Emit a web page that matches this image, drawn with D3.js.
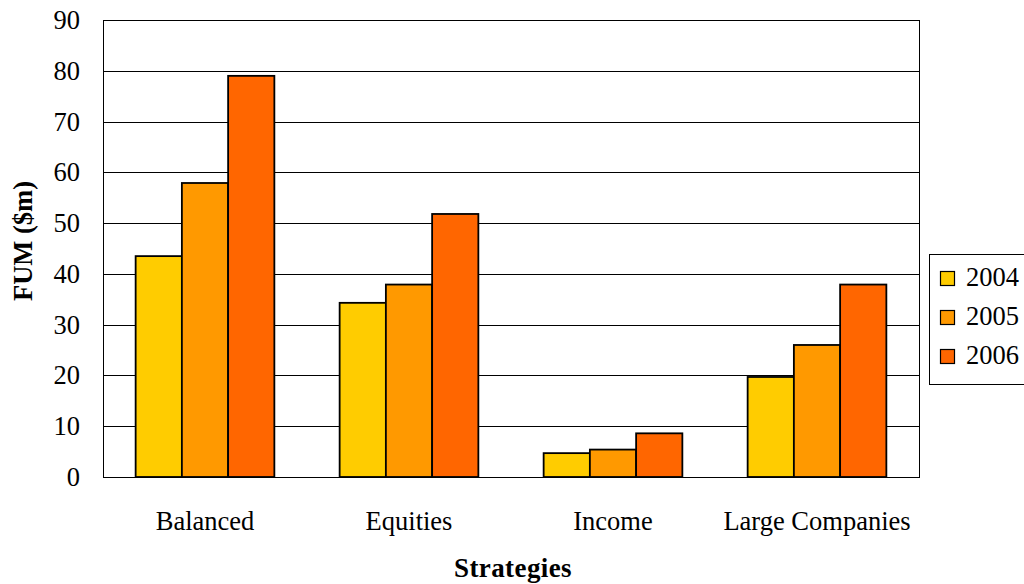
<!DOCTYPE html>
<html>
<head>
<meta charset="utf-8">
<script src="https://cdn.jsdelivr.net/npm/d3@7"></script>
<style>
  body { margin: 0; background: #fff; }
  text { font-family: "Liberation Serif", "Times New Roman", serif; }
</style>
</head>
<body>
<div id="chart"></div>
<script>
// Datos
var categories = ["Balanced", "Equities", "Income", "Large Companies"];
var years = ["2004", "2005", "2006"];
var values2004 = [43.5, 34.3, 4.7, 19.7];
var values2005 = [57.9, 37.9, 5.4, 26.0];
var values2006 = [79.0, 51.8, 8.6, 37.9];
var yTicks = [0, 10, 20, 30, 40, 50, 60, 70, 80, 90];
var colors = ["#FFCC00", "#FF9900", "#FF6600"];

var seriesValues = [values2004, values2005, values2006];

var width = 1024;
var height = 584;
var plot = { left: 103, top: 20, right: 919, bottom: 477 };
var fontSize = "26.5px";

var svg = d3.select("#chart")
    .append("svg")
    .attr("width", width)
    .attr("height", height);

// Escalas
var x0 = d3.scaleBand()
    .domain(categories)
    .range([plot.left, plot.right])
    .paddingInner(0.32)
    .paddingOuter(0.16);

var x1 = d3.scaleBand()
    .domain(years)
    .range([0, x0.bandwidth()]);

var y = d3.scaleLinear()
    .domain([0, 90])
    .range([plot.bottom, plot.top]);

// Rejilla
svg.append("g")
    .selectAll("line")
    .data(yTicks)
    .enter()
    .append("line")
    .attr("x1", plot.left)
    .attr("x2", plot.right)
    .attr("y1", function (d) { return Math.round(y(d)) + 0.5; })
    .attr("y2", function (d) { return Math.round(y(d)) + 0.5; })
    .attr("stroke", "#000")
    .attr("stroke-width", 1);

// Barras
var groups = svg.append("g")
    .selectAll("g")
    .data(categories)
    .enter()
    .append("g")
    .attr("transform", function (d) { return "translate(" + x0(d) + ",0)"; });

groups.selectAll("rect")
    .data(function (d, i) {
        return years.map(function (yr, j) { return { year: yr, value: seriesValues[j][i], idx: j }; });
    })
    .enter()
    .append("rect")
    .attr("x", function (d) { return x1(d.year); })
    .attr("y", function (d) { return y(d.value); })
    .attr("width", x1.bandwidth())
    .attr("height", function (d) { return y(0) - y(d.value); })
    .attr("fill", function (d) { return colors[d.idx]; })
    .attr("stroke", "#000")
    .attr("stroke-width", 1.8);

// Marco del área
svg.append("rect")
    .attr("x", plot.left + 0.5)
    .attr("y", plot.top + 0.5)
    .attr("width", plot.right - plot.left)
    .attr("height", plot.bottom - plot.top)
    .attr("fill", "none")
    .attr("stroke", "#000")
    .attr("stroke-width", 1);

// Ejes
var yAxis = svg.append("g")
    .attr("transform", "translate(" + plot.left + ",0)")
    .call(d3.axisLeft(y).tickValues(yTicks).tickSize(0).tickPadding(23));
yAxis.select(".domain").remove();
yAxis.selectAll("text")
    .style("font-family", "Liberation Serif, Times New Roman, serif")
    .style("font-size", fontSize)
    .attr("fill", "#000");

var xAxis = svg.append("g")
    .attr("transform", "translate(0," + plot.bottom + ")")
    .call(d3.axisBottom(x0).tickSize(0).tickPadding(34));
xAxis.select(".domain").remove();
xAxis.selectAll("text")
    .style("font-family", "Liberation Serif, Times New Roman, serif")
    .style("font-size", fontSize)
    .attr("fill", "#000");

// Títulos de ejes
svg.append("text")
    .attr("transform", "rotate(-90)")
    .attr("x", -241)
    .attr("y", 32)
    .style("text-anchor", "middle")
    .style("font-size", fontSize)
    .style("font-weight", "bold")
    .text("FUM ($m)");

svg.append("text")
    .attr("x", 513)
    .attr("y", 577)
    .style("text-anchor", "middle")
    .style("font-size", "27px")
    .style("font-weight", "bold")
    .style("letter-spacing", "0.4px")
    .text("Strategies");

// Leyenda
var legend = svg.append("g");
legend.append("rect")
    .attr("x", 929.5)
    .attr("y", 254.5)
    .attr("width", 100)
    .attr("height", 130)
    .attr("fill", "#fff")
    .attr("stroke", "#000")
    .attr("stroke-width", 1);

var items = legend.selectAll("g.item")
    .data(years)
    .enter()
    .append("g")
    .attr("class", "item")
    .attr("transform", function (d, i) { return "translate(940," + (286 + i * 39) + ")"; });

items.append("rect")
    .attr("x", 0.5)
    .attr("y", -14.5)
    .attr("width", 14)
    .attr("height", 14)
    .attr("fill", function (d, i) { return colors[i]; })
    .attr("stroke", "#000")
    .attr("stroke-width", 1.2);

items.append("text")
    .attr("x", 26)
    .attr("y", 0)
    .style("font-size", fontSize)
    .text(function (d) { return d; });
</script>
</body>
</html>
